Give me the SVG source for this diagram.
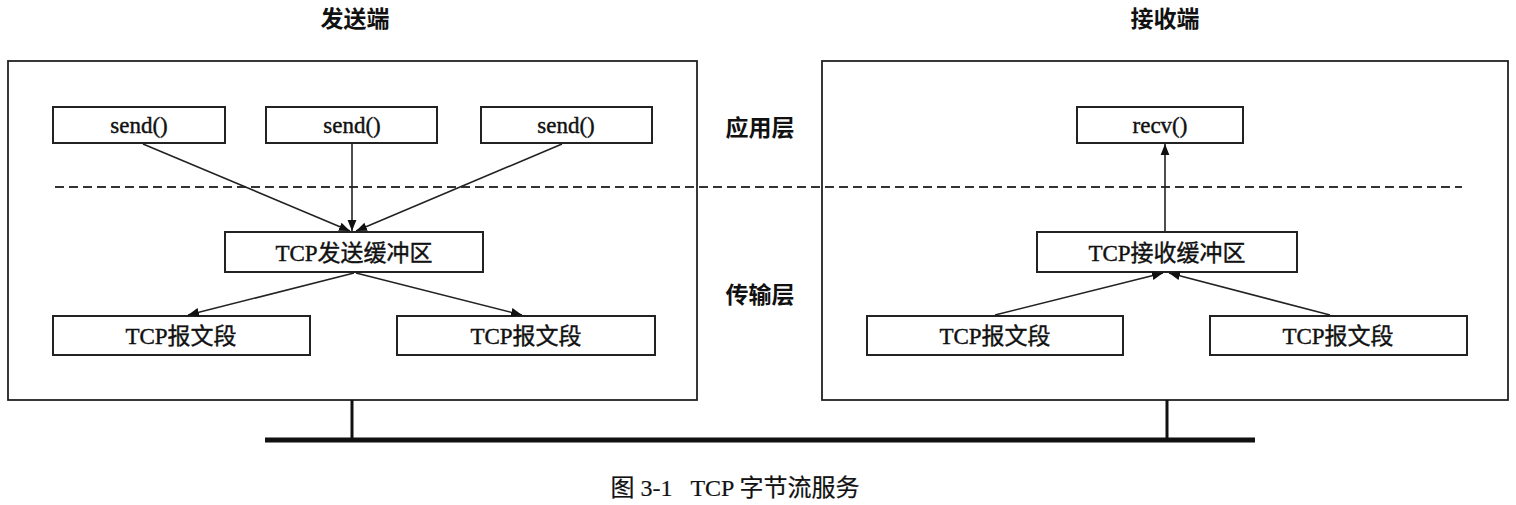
<svg xmlns="http://www.w3.org/2000/svg" width="1516" height="505" viewBox="0 0 1516 505">
<style>
.box{fill:#fff;stroke:#222;stroke-width:2}
.outer{fill:#fff;stroke:#222;stroke-width:1.8}
.t{font-family:"Liberation Serif","Noto Sans CJK SC",serif;font-size:23px;fill:#111;stroke:#111;stroke-width:0.4;text-anchor:middle}
.h{font-family:"Liberation Serif","Noto Sans CJK SC",serif;font-size:23px;font-weight:bold;fill:#111;text-anchor:middle}
.c{stroke:#222;stroke-width:1.6;fill:none;marker-end:url(#ah)}
</style>
<defs>
<marker id="ah" viewBox="0 0 10 10" refX="10" refY="5" markerWidth="11" markerHeight="11" markerUnits="userSpaceOnUse" orient="auto">
<path d="M0,1 L10,5 L0,9 Z" fill="#111"/>
</marker>
</defs>
<g id="titles">
<text class="h" x="355" y="27">发送端</text>
<text class="h" x="1165" y="27">接收端</text>
</g>
<g id="sender"><rect class="outer" x="8" y="61" width="689" height="339"/></g>
<g id="receiver"><rect class="outer" x="822" y="61" width="686" height="339"/></g>
<g id="layers">
<line x1="55" y1="187" x2="1462" y2="187" stroke="#333" stroke-width="2" stroke-dasharray="9,5"/>
<text class="h" x="760" y="136">应用层</text>
<text class="h" x="760" y="303">传输层</text>
</g>
<g id="send1"><rect class="box" x="53" y="107" width="172" height="36"/><text class="t" x="139" y="133">send()</text></g>
<g id="send2"><rect class="box" x="266" y="107" width="171" height="36"/><text class="t" x="352" y="133">send()</text></g>
<g id="send3"><rect class="box" x="481" y="107" width="171" height="36"/><text class="t" x="566" y="133">send()</text></g>
<g id="sendbuf"><rect class="box" x="225" y="232" width="258" height="40"/><text class="t" x="354" y="261">TCP发送缓冲区</text></g>
<g id="seg1"><rect class="box" x="53" y="316" width="257" height="39"/><text class="t" x="181" y="344">TCP报文段</text></g>
<g id="seg2"><rect class="box" x="397" y="316" width="258" height="39"/><text class="t" x="526" y="344">TCP报文段</text></g>
<g id="recv"><rect class="box" x="1077" y="107" width="166" height="36"/><text class="t" x="1160" y="133">recv()</text></g>
<g id="recvbuf"><rect class="box" x="1037" y="232" width="260" height="40"/><text class="t" x="1167" y="261">TCP接收缓冲区</text></g>
<g id="seg3"><rect class="box" x="867" y="316" width="256" height="39"/><text class="t" x="995" y="344">TCP报文段</text></g>
<g id="seg4"><rect class="box" x="1210" y="316" width="257" height="39"/><text class="t" x="1338" y="344">TCP报文段</text></g>
<g id="network">
<line x1="352" y1="400" x2="352" y2="440" stroke="#111" stroke-width="3"/>
<line x1="1167" y1="400" x2="1167" y2="440" stroke="#111" stroke-width="3"/>
<line x1="265" y1="440" x2="1255" y2="440" stroke="#111" stroke-width="5"/>
</g>
<g id="connectors">
<line class="c" x1="143" y1="144" x2="350" y2="231"/>
<line class="c" x1="352" y1="144" x2="352" y2="231"/>
<line class="c" x1="562" y1="144" x2="356" y2="231"/>
<line class="c" x1="354" y1="273" x2="188" y2="315"/>
<line class="c" x1="356" y1="273" x2="522" y2="315"/>
<line class="c" x1="1165" y1="231" x2="1165" y2="144"/>
<line class="c" x1="995" y1="315" x2="1163" y2="273"/>
<line class="c" x1="1330" y1="315" x2="1169" y2="273"/>
</g>
<g id="caption"><text class="t" x="735" y="496" style="font-size:24px;stroke-width:0.2" xml:space="preserve">图 3-1   TCP 字节流服务</text></g>
</svg>
